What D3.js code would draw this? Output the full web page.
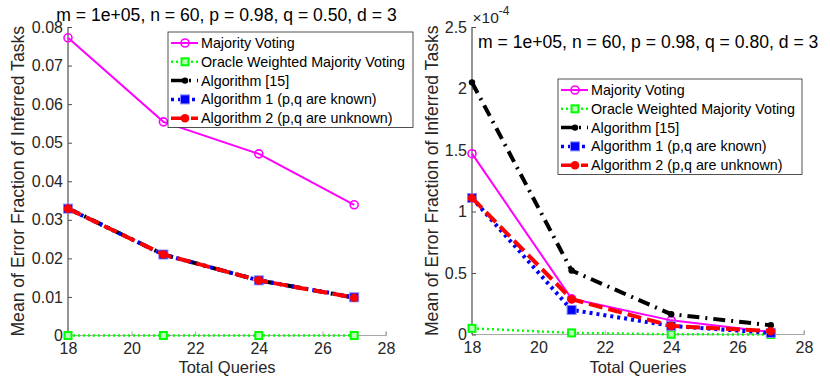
<!DOCTYPE html>
<html>
<head>
<meta charset="utf-8">
<script src="https://cdn.jsdelivr.net/npm/d3@7"></script>
<style>
  body { margin: 0; background: #fff; }
  svg { font-family: "Liberation Sans", Arial, Helvetica, sans-serif; }
</style>
</head>
<body>
<svg id="chart" width="830" height="377"></svg>
<script>
'use strict';

// total queries on x
var queries = [18, 21, 24, 27];
var xTicks = [18, 20, 22, 24, 26, 28];

// left panel, q = 0.50
var leftMajority = [0.0772, 0.0554, 0.0471, 0.0339];
var leftOracle   = [0, 0, 0, 0];
var leftAlg15    = [0.0330, 0.0210, 0.0143, 0.0098];
var leftAlg1     = [0.0329, 0.0210, 0.0143, 0.0099];
var leftAlg2     = [0.0329, 0.0210, 0.0143, 0.0098];
var leftYTicks   = [0, 0.01, 0.02, 0.03, 0.04, 0.05, 0.06, 0.07, 0.08];

// right panel, q = 0.80 (values in units of 1e-4)
var rightMajority = [1.47, 0.29, 0.115, 0.02];
var rightOracle   = [0.05, 0.013, 0.002, 0.0];
var rightAlg15    = [2.05, 0.52, 0.165, 0.075];
var rightAlg1     = [1.11, 0.20, 0.07, 0.013];
var rightAlg2     = [1.11, 0.287, 0.07, 0.027];
var rightYTicks   = [0, 0.5, 1, 1.5, 2, 2.5];

var seriesNames = [
  "Majority Voting",
  "Oracle Weighted Majority Voting",
  "Algorithm [15]",
  "Algorithm 1 (p,q are known)",
  "Algorithm 2 (p,q are unknown)"
];

var styles = [
  {color: "#ff00ff", width: 2,   dash: null,           marker: "circle"},
  {color: "#00ff00", width: 2.5, dash: "2,3",          marker: "osquare"},
  {color: "#000000", width: 4,   dash: "12,6,2,6",     marker: "dot"},
  {color: "#0000ff", width: 4,   dash: "3,4",          marker: "square"},
  {color: "#ff0000", width: 4,   dash: "14,6",         marker: "fcircle"}
];

var svg = d3.select("#chart");

function drawMarker(g, kind, color, x, y) {
  if (kind === "circle") {
    g.append("circle").attr("cx", x).attr("cy", y).attr("r", 4)
      .attr("fill", "none").attr("stroke", color).attr("stroke-width", 1.6);
  } else if (kind === "osquare") {
    g.append("rect").attr("x", x - 3.5).attr("y", y - 3.5).attr("width", 7).attr("height", 7)
      .attr("fill", "#b8ffb8").attr("stroke", color).attr("stroke-width", 2);
  } else if (kind === "dot") {
    g.append("circle").attr("cx", x).attr("cy", y).attr("r", 3.2).attr("fill", color);
  } else if (kind === "square") {
    g.append("rect").attr("x", x - 4.5).attr("y", y - 4.5).attr("width", 9).attr("height", 9)
      .attr("fill", color).attr("stroke", "#8a8aff").attr("stroke-width", 1);
  } else if (kind === "fcircle") {
    g.append("circle").attr("cx", x).attr("cy", y).attr("r", 4.3).attr("fill", color);
  }
}

function panel(cfg) {
  var x = d3.scaleLinear().domain([18, 28]).range([cfg.left, cfg.right]);
  var y = d3.scaleLinear().domain(cfg.yDomain).range([cfg.bottom, cfg.top]);
  var g = svg.append("g");

  // axes
  var xAxis = d3.axisBottom(x).tickValues(xTicks).tickSize(-4).tickPadding(7.5)
    .tickFormat(d3.format("d"));
  var gx = g.append("g").attr("transform", "translate(0," + cfg.bottom + ")").call(xAxis);
  gx.select(".domain").attr("stroke", "#a8a8a8").attr("stroke-width", 1.2)
    .attr("d", "M" + cfg.left + ",0H" + cfg.right + "V-4");
  gx.selectAll(".tick line").attr("stroke", "#a8a8a8");
  gx.selectAll(".tick text").attr("font-size", 16).attr("fill", "#262626")
    .attr("font-family", "Liberation Sans, Arial, sans-serif");

  var yAxis = d3.axisLeft(y).tickValues(cfg.yTicks).tickSize(-4).tickPadding(5)
    .tickFormat(cfg.yFormat);
  var gy = g.append("g").attr("transform", "translate(" + cfg.left + ",0)").call(yAxis);
  gy.select(".domain").attr("stroke", "#4d4d4d").attr("stroke-width", 1.2)
    .attr("d", "M0," + cfg.bottom + "V" + cfg.top);
  gy.selectAll(".tick line").attr("stroke", "#4d4d4d");
  gy.selectAll(".tick text").attr("font-size", 16).attr("fill", "#262626")
    .attr("font-family", "Liberation Sans, Arial, sans-serif");

  // lines
  var line = d3.line().x(function(d) { return x(d[0]); }).y(function(d) { return y(d[1]); });
  cfg.series.forEach(function(vals, i) {
    var st = styles[i];
    var pts = queries.map(function(q, j) { return [q, vals[j]]; });
    g.append("path").datum(pts).attr("d", line).attr("fill", "none")
      .attr("stroke", st.color).attr("stroke-width", st.width)
      .attr("stroke-dasharray", st.dash);
    pts.forEach(function(p) { drawMarker(g, st.marker, st.color, x(p[0]), y(p[1])); });
  });

  // labels
  g.append("text").attr("transform", "translate(" + cfg.yLabelX + "," + ((cfg.top + cfg.bottom) / 2) + ") rotate(-90)")
    .attr("text-anchor", "middle").attr("dy", "0.35em").attr("font-size", 17.6).attr("fill", "#262626")
    .text("Mean of Error Fraction of Inferred Tasks");
  g.append("text").attr("x", (cfg.left + cfg.right) / 2).attr("y", 373.2)
    .attr("text-anchor", "middle").attr("font-size", 16.5).attr("fill", "#262626")
    .text("Total Queries");
  g.append("text").attr("x", cfg.titleX).attr("y", cfg.titleY)
    .attr("text-anchor", cfg.titleAnchor).attr("font-size", 17.6).attr("fill", "#000")
    .text(cfg.title);

  // legend
  var lg = g.append("g").attr("transform", "translate(" + cfg.legendX + "," + cfg.legendY + ")");
  lg.append("rect").attr("width", cfg.legendW).attr("height", 95.5)
    .attr("fill", "#fff").attr("stroke", "#262626").attr("stroke-width", 0.8);
  seriesNames.forEach(function(name, i) {
    var st = styles[i];
    var yy = 11 + i * 18.8;
    lg.append("line").attr("x1", 3).attr("x2", 30).attr("y1", yy).attr("y2", yy)
      .attr("stroke", st.color).attr("stroke-width", Math.min(st.width, 3.5))
      .attr("stroke-dasharray", st.dash);
    drawMarker(lg, st.marker, st.color, 17, yy);
    lg.append("text").attr("x", 33).attr("y", yy).attr("dy", "0.35em")
      .attr("font-size", 14.3).attr("fill", "#000").text(name);
  });

  return g;
}

panel({
  left: 68, right: 386, top: 27, bottom: 335.5,
  yDomain: [0, 0.08], yTicks: leftYTicks,
  yFormat: function(d) { return d === 0 ? "0" : d3.format(".2f")(d); },
  series: [leftMajority, leftOracle, leftAlg15, leftAlg1, leftAlg2],
  yLabelX: 18,
  title: "m = 1e+05, n = 60, p = 0.98, q = 0.50, d = 3",
  titleX: 226.5, titleY: 21, titleAnchor: "middle",
  legendX: 168, legendY: 32, legendW: 245
});

var right = panel({
  left: 472, right: 804, top: 27, bottom: 334.5,
  yDomain: [0, 2.5], yTicks: rightYTicks,
  yFormat: function(d) { return String(d); },
  series: [rightMajority, rightOracle, rightAlg15, rightAlg1, rightAlg2],
  yLabelX: 431.5,
  title: "m = 1e+05, n = 60, p = 0.98, q = 0.80, d = 3",
  titleX: 478, titleY: 48, titleAnchor: "start",
  legendX: 558, legendY: 79, legendW: 244
});

// exponent label of the right y axis
var ex = right.append("text").attr("x", 472.5).attr("y", 23).attr("font-size", 15.5).attr("fill", "#262626");
ex.append("tspan").text("\u00d710");
ex.append("tspan").attr("dy", -8).attr("font-size", 12).text("-4");
</script>
</body>
</html>
